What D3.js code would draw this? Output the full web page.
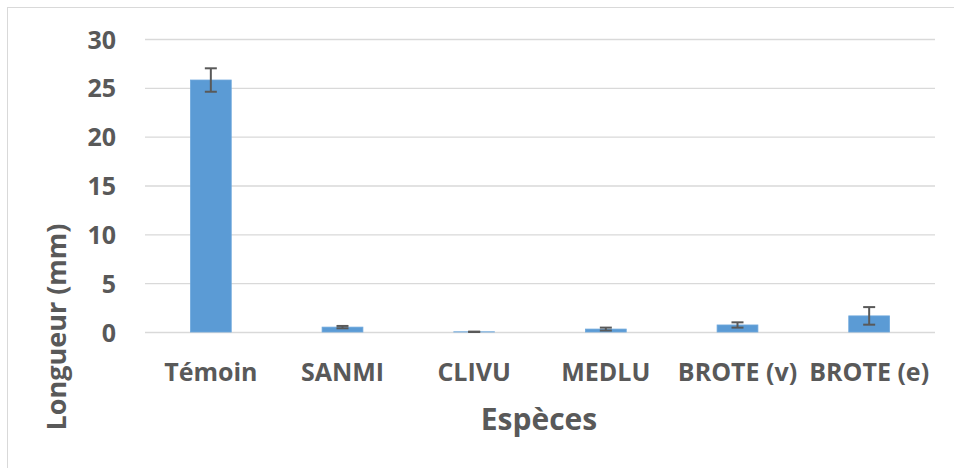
<!DOCTYPE html>
<html>
<head>
<meta charset="utf-8">
<script src="https://cdn.jsdelivr.net/npm/d3@7"></script>
<style>
  body { margin: 0; background: #fff; }
  text { font-family: "Open Sans", sans-serif; font-weight: bold; fill: #595959; }
</style>
</head>
<body>
<div id="chart"></div>
<script>
// values
var species = ["Témoin", "SANMI", "CLIVU", "MEDLU", "BROTE (v)", "BROTE (e)"];
var lengths = [25.8, 0.5, 0.02, 0.3, 0.72, 1.65];
var errors = [1.2, 0.12, 0.02, 0.15, 0.27, 0.9];
var yTicks = [0, 5, 10, 15, 20, 25, 30];

var width = 954, height = 468;
var margin = {top: 39, left: 145, right: 19, bottom: 136};

var svg = d3.select("#chart").append("svg")
    .attr("width", width)
    .attr("height", height);

// chart area border (runs off the right and bottom)
svg.append("rect")
    .attr("x", 7.5).attr("y", 7.5)
    .attr("width", 970).attr("height", 480)
    .attr("fill", "none")
    .attr("stroke", "#d9d9d9")
    .attr("stroke-width", 1);

var x = d3.scaleBand()
    .domain(species)
    .range([margin.left, width - margin.right])
    .paddingInner(0.69)
    .paddingOuter(0.345);

var y = d3.scaleLinear()
    .domain([0, 30])
    .range([height - margin.bottom, margin.top]);

// gridlines
var yAxis = d3.axisLeft(y)
    .tickValues(yTicks)
    .tickSize(-(width - margin.left - margin.right))
    .tickPadding(29);

var gy = svg.append("g")
    .attr("class", "yAxis")
    .attr("transform", "translate(" + margin.left + ",0)")
    .call(yAxis);
gy.select(".domain").remove();
gy.selectAll("line").attr("stroke", "#d9d9d9").attr("stroke-width", 1.4);
gy.selectAll("text")
    .attr("font-size", 25)
    .attr("dy", "0.36em")
    .style("fill", "#595959");

// bars
svg.selectAll(".bar")
    .data(species)
    .enter().append("rect")
    .attr("class", "bar")
    .attr("x", d => x(d))
    .attr("width", x.bandwidth())
    .attr("y", (d, i) => y(lengths[i]))
    .attr("height", (d, i) => y(0) - y(lengths[i]))
    .attr("fill", "#5b9bd5")
    .attr("stroke", "#6fa8dc")
    .attr("stroke-width", 0.8);

// error bars
var err = svg.selectAll(".err")
    .data(species)
    .enter().append("g")
    .attr("class", "err")
    .attr("transform", d => "translate(" + (x(d) + x.bandwidth() / 2) + ",0)");

err.append("line")
    .attr("y1", (d, i) => y(lengths[i] + errors[i]))
    .attr("y2", (d, i) => y(lengths[i] - errors[i]))
    .attr("stroke", "#595959").attr("stroke-width", 2);
err.append("line")
    .attr("x1", -6).attr("x2", 6)
    .attr("y1", (d, i) => y(lengths[i] + errors[i]))
    .attr("y2", (d, i) => y(lengths[i] + errors[i]))
    .attr("stroke", "#595959").attr("stroke-width", 2);
err.append("line")
    .attr("x1", -6).attr("x2", 6)
    .attr("y1", (d, i) => y(lengths[i] - errors[i]))
    .attr("y2", (d, i) => y(lengths[i] - errors[i]))
    .attr("stroke", "#595959").attr("stroke-width", 2);

// category labels
svg.selectAll(".cat")
    .data(species)
    .enter().append("text")
    .attr("class", "cat")
    .attr("x", d => x(d) + x.bandwidth() / 2)
    .attr("y", 381)
    .attr("text-anchor", "middle")
    .attr("font-size", 25)
    .text(d => d);

// axis titles
svg.append("text")
    .attr("x", 539).attr("y", 430)
    .attr("text-anchor", "middle")
    .attr("font-size", 30)
    .text("Espèces");

svg.append("text")
    .attr("transform", "translate(66,327) rotate(-90)")
    .attr("text-anchor", "middle")
    .attr("font-size", 27)
    .text("Longueur (mm)");
</script>
</body>
</html>
